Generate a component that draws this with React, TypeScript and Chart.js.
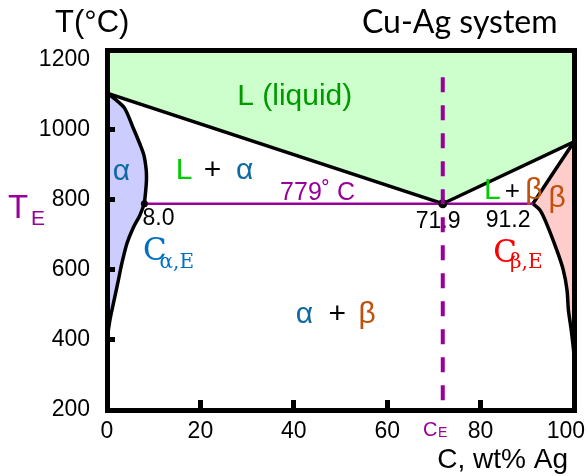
import React, { useEffect, useRef } from 'react';
import { Chart, registerables } from 'chart.js';

Chart.register(...registerables);

const SANS = '"Liberation Sans", Arial, sans-serif';
const SERIF = '"DejaVu Serif", "Liberation Serif", serif';
const TITLE_FONT = 'Lato, "Open Sans", sans-serif';

const PURPLE = '#990099';
const ALPHA_BLUE = '#106aa2';
const BETA_ORANGE = '#c0500a';
const L_GREEN = '#00cc00';
const LIQ_GREEN = '#009900';

// axes
const X_TICKS = [0, 20, 40, 60, 80, 100];
const Y_TICKS = [200, 400, 600, 800, 1000, 1200];
const X_MIN = 0;
const X_MAX = 100;
const Y_MIN = 200;
const Y_MAX = 1228;

// phase boundaries (wt% Ag, °C)
const liquidus = [
  { x: 0, y: 1105 },
  { x: 71.9, y: 789 },
  { x: 100, y: 966 },
];
const alphaSolidus = [
  { x: 0, y: 1105 },
  { x: 1.6, y: 1089 },
  { x: 3.75, y: 1062 },
  { x: 5.5, y: 1009 },
  { x: 7.0, y: 961 },
  { x: 7.9, y: 928 },
  { x: 8.4, y: 885 },
  { x: 8.45, y: 857 },
  { x: 8.3, y: 828 },
  { x: 8.0, y: 789 },
];
const alphaSolvus = [
  { x: 8.0, y: 789 },
  { x: 7.0, y: 755 },
  { x: 5.6, y: 720 },
  { x: 4.3, y: 677 },
  { x: 3.2, y: 620 },
  { x: 2.3, y: 562 },
  { x: 1.3, y: 500 },
  { x: 0.6, y: 455 },
  { x: 0, y: 400 },
];
const betaSolidus = [
  { x: 91.2, y: 789 },
  { x: 95.5, y: 876 },
  { x: 100, y: 966 },
];
const betaSolvus = [
  { x: 91.2, y: 789 },
  { x: 92.7, y: 771 },
  { x: 94.1, y: 733 },
  { x: 96.3, y: 657 },
  { x: 97.7, y: 600 },
  { x: 98.5, y: 543 },
  { x: 98.8, y: 486 },
  { x: 99.4, y: 429 },
  { x: 99.9, y: 371 },
  { x: 100, y: 343 },
];
const eutecticIsotherm = [
  { x: 8.0, y: 789 },
  { x: 91.2, y: 789 },
];
const eutecticComposition = [
  { x: 71.9, y: 1150 },
  { x: 71.9, y: 223 },
];
const keyPoints = [
  { x: 8.0, y: 789 },
  { x: 71.9, y: 789 },
];
const keyPointSizes = [3.5, 4.5];

// text annotations inside the plot (data coordinates)
type Label = { text: string; x: number; y: number; color: string; size: number; family?: string; align?: CanvasTextAlign };
const PLOT_LABELS: Label[] = [
  { text: 'L (liquid)', x: 40.2, y: 1071, color: LIQ_GREEN, size: 30 },
  { text: 'α', x: 3.1, y: 857, color: ALPHA_BLUE, size: 30 },
  { text: 'L', x: 16.5, y: 860, color: L_GREEN, size: 30 },
  { text: '+', x: 22.6, y: 860, color: '#000', size: 30 },
  { text: 'α', x: 29.5, y: 860, color: ALPHA_BLUE, size: 30 },
  { text: '779˚ C', x: 45.1, y: 800, color: PURPLE, size: 25 },
  { text: '8.0', x: 7.6, y: 729, color: '#000', size: 23, align: 'left' },
  { text: '71.9', x: 70.9, y: 720, color: '#000', size: 23 },
  { text: '91.2', x: 85.9, y: 723, color: '#000', size: 23 },
  { text: 'L', x: 82.5, y: 803, color: L_GREEN, size: 30 },
  { text: '+', x: 86.8, y: 803, color: '#000', size: 26 },
  { text: 'β', x: 91.4, y: 803, color: BETA_ORANGE, size: 30 },
  { text: 'β', x: 96.4, y: 780, color: BETA_ORANGE, size: 30 },
  { text: 'C', x: 7.7, y: 629, color: '#0070c0', size: 31, family: SERIF, align: 'left' },
  { text: 'α,E', x: 11.25, y: 606, color: '#0070c0', size: 20, family: SERIF, align: 'left' },
  { text: 'C', x: 82.7, y: 623, color: '#ff0000', size: 31, family: SERIF, align: 'left' },
  { text: 'β,E', x: 86.3, y: 606, color: '#ff0000', size: 20, family: SERIF, align: 'left' },
  { text: 'α', x: 42.3, y: 449, color: ALPHA_BLUE, size: 30 },
  { text: '+', x: 49.3, y: 449, color: '#000', size: 30 },
  { text: 'β', x: 55.7, y: 449, color: BETA_ORANGE, size: 30 },
];

type PxLabel = { text: string; px: number; py: number; color: string; size: number; family?: string; align?: CanvasTextAlign };
const PAGE_LABELS: PxLabel[] = [
  { text: 'T(°C)', px: 55, py: 32, color: '#000', size: 31, align: 'left' },
  { text: 'Cu-Ag system', px: 362, py: 33, color: '#000', size: 32, family: TITLE_FONT, align: 'left' },
  { text: 'C, wt% Ag', px: 568, py: 468, color: '#000', size: 28, align: 'right' },
  { text: 'T', px: 8, py: 218, color: PURPLE, size: 33, align: 'left' },
  { text: 'E', px: 31, py: 225, color: PURPLE, size: 21, align: 'left' },
  { text: 'C', px: 423, py: 436, color: PURPLE, size: 20, align: 'left' },
  { text: 'E', px: 438, py: 437, color: PURPLE, size: 14, align: 'left' },
];

function drawText(ctx: CanvasRenderingContext2D, text: string, px: number, py: number, color: string, size: number, family?: string, align?: CanvasTextAlign) {
  ctx.save();
  ctx.font = `${size}px ${family || SANS}`;
  ctx.fillStyle = color;
  ctx.textAlign = align || 'center';
  ctx.textBaseline = 'alphabetic';
  ctx.fillText(text, px, py);
  ctx.restore();
}

const annotationPlugin = {
  id: 'phaseAnnotations',
  beforeDatasetDraw(chart: any, args: any) {
    if (args.index !== 0) return;
    const { ctx, scales } = chart;
    PLOT_LABELS.forEach((l) => {
      drawText(ctx, l.text, scales.x.getPixelForValue(l.x), scales.y.getPixelForValue(l.y), l.color, l.size, l.family, l.align);
    });
  },
  afterDraw(chart: any) {
    const { ctx, scales } = chart;
    const xs = scales.x;
    ctx.save();
    ctx.font = `23px ${SANS}`;
    xs.ticks.forEach((t: any) => {
      const label = String(t.value);
      const w = ctx.measureText(label).width;
      let px = xs.getPixelForValue(t.value);
      if (px + w / 2 > chart.width - 3) px = chart.width - 3 - w / 2;
      drawText(ctx, label, px, xs.top + 28, '#000', 23);
    });
    ctx.restore();
    PAGE_LABELS.forEach((l) => drawText(ctx, l.text, l.px, l.py, l.color, l.size, l.family, l.align));
  },
};

const edgeTick = (vals: number[]) => (c: any) => (c.tick && vals.includes(c.tick.value) ? 'rgba(0,0,0,0)' : '#000');

export default function App() {
  const ref = useRef<HTMLCanvasElement>(null);
  useEffect(() => {
    const alphaFill = [...alphaSolidus, ...alphaSolvus.slice(1)];
    const betaFill = [...betaSolidus.slice().reverse(), ...betaSolvus.slice(1)];
    const line = (data: any[], extra: any = {}) => ({
      data,
      showLine: true,
      pointRadius: 0,
      borderColor: '#000',
      borderWidth: 3.5,
      tension: 0,
      fill: false,
      ...extra,
    });
    const chart = new Chart(ref.current as HTMLCanvasElement, {
      type: 'scatter',
      data: {
        datasets: [
          line(eutecticComposition, { borderColor: PURPLE, borderWidth: 4, borderDash: [15, 13], borderCapStyle: 'butt' }),
          { data: keyPoints, showLine: false, pointRadius: keyPointSizes, pointBackgroundColor: '#000', pointBorderWidth: 0 },
          line(eutecticIsotherm, { borderColor: PURPLE, borderWidth: 2.5 }),
          line(alphaSolidus, { tension: 0.3 }),
          line(alphaSolvus, { tension: 0.3 }),
          line(betaSolidus, { tension: 0.2 }),
          line(betaSolvus, { tension: 0.3 }),
          line(liquidus, { fill: 'end', backgroundColor: '#ccffcc' }),
          line(alphaFill, { borderWidth: 0, fill: 'shape', backgroundColor: '#ccccff' }),
          line(betaFill, { borderWidth: 0, fill: 'shape', backgroundColor: '#ffcccc' }),
        ],
      } as any,
      options: {
        responsive: false,
        animation: false,
        events: [],
        layout: { padding: { top: 50, right: 14, left: 0, bottom: 0 } },
        plugins: { legend: { display: false }, tooltip: { enabled: false } },
        scales: {
          x: {
            type: 'linear',
            position: 'bottom',
            min: X_MIN,
            max: X_MAX,
            afterBuildTicks: (s: any) => { s.ticks = X_TICKS.map((v) => ({ value: v })); },
            afterFit: (s: any) => { s.height = 66; },
            ticks: { display: false },
            grid: { display: true, drawOnChartArea: false, drawTicks: true, tickLength: -10, tickWidth: 5, tickColor: edgeTick([0, 100]), lineWidth: 5, z: 1 },
            border: { display: true, color: '#000', width: 5, z: 1 },
          },
          y: {
            type: 'linear',
            position: 'left',
            min: Y_MIN,
            max: Y_MAX,
            afterBuildTicks: (s: any) => { s.ticks = Y_TICKS.map((v) => ({ value: v })); },
            afterFit: (s: any) => { s.width = 107; },
            ticks: { display: true, color: '#000', padding: 25, font: { family: SANS, size: 23 }, callback: (v: any) => String(v) },
            grid: { display: true, drawOnChartArea: false, drawTicks: true, tickLength: -8, tickWidth: 5, tickColor: edgeTick([200, 1200]), lineWidth: 5, z: 1 },
            border: { display: true, color: '#000', width: 5, z: 1 },
          },
          xTop: {
            type: 'linear',
            position: 'top',
            min: X_MIN,
            max: X_MAX,
            afterFit: (s: any) => { s.height = 0; },
            ticks: { display: false },
            grid: { display: true, drawOnChartArea: false, drawTicks: false, lineWidth: 5 },
            border: { display: true, color: '#000', width: 5, z: 1 },
          },
          yRight: {
            type: 'linear',
            position: 'right',
            min: Y_MIN,
            max: Y_MAX,
            afterFit: (s: any) => { s.width = 0; },
            ticks: { display: false },
            grid: { display: true, drawOnChartArea: false, drawTicks: false, lineWidth: 5 },
            border: { display: true, color: '#000', width: 5, z: 1 },
          },
        },
      } as any,
      plugins: [annotationPlugin],
    });
    return () => chart.destroy();
  }, []);
  return (
    <div style={{ position: 'fixed', left: 0, top: 0, width: 588, height: 476, background: '#fff' }}>
      <canvas ref={ref} width={588} height={476} style={{ display: 'block' }} />
    </div>
  );
}
